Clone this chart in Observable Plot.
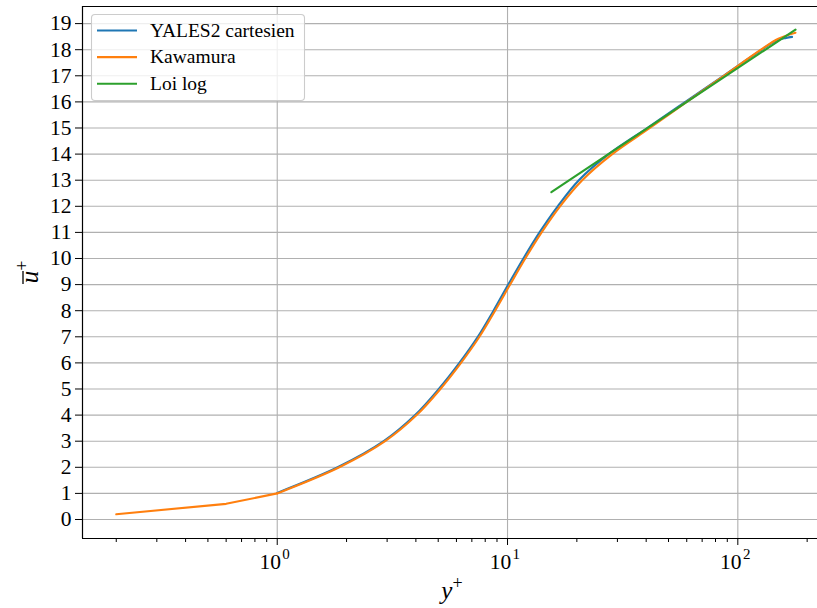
<!DOCTYPE html>
<html><head><meta charset="utf-8">
<script src="https://cdn.jsdelivr.net/npm/d3@7"></script>
<script src="https://cdn.jsdelivr.net/npm/@observablehq/plot@0.6"></script>
<style>
html,body{margin:0;padding:0;background:#fff;overflow:hidden}
#chart svg{display:block}
</style>
</head><body><div id="chart"></div>
<script>
// ---- data ----
const yplusYales = [1.0, 1.83, 2.90, 3.97, 5.03, 6.18, 7.43, 8.69, 10.07, 11.72, 13.77, 16.52, 20.4, 27.5, 40.4, 59.2, 86.7, 127, 148, 162, 172];
const uYales      = [1.02, 2.0, 3.0, 4.0, 5.0, 6.0, 7.0, 8.0, 9.0, 10.0, 11.0, 12.0, 13.0, 14.0, 15.0, 16.0, 17.0, 18.0, 18.36, 18.45, 18.49];
const yplusKawamura = [0.2, 0.6, 1.0, 1.86, 2.94, 4.03, 5.11, 6.28, 7.55, 8.83, 10.26, 11.94, 14.06, 16.9, 21.1, 28.5, 41.5, 60.0, 87.0, 126, 150, 178];
const uKawamura     = [0.2, 0.6, 1.0, 2.0, 3.0, 4.0, 5.0, 6.0, 7.0, 8.0, 9.0, 10.0, 11.0, 12.0, 13.0, 14.0, 15.0, 16.0, 17.0, 18.0, 18.42, 18.65];
const yplusLoiLog = [15.5, 178];
const uLoiLog     = [12.54, 18.77];

const seriesNames  = ["YALES2 cartesien", "Kawamura", "Loi log"];
const seriesColors = ["#1f77b4", "#ff7f0e", "#2ca02c"];

const xMajorTicks = [1, 10, 100];
const xMajorBase = ["10", "10", "10"];
const xMajorExponents = ["0", "1", "2"];
const xMinorTicks = [0.2,0.3,0.4,0.5,0.6,0.7,0.8,0.9, 2,3,4,5,6,7,8,9, 20,30,40,50,60,70,80,90, 200];
const yTicks = [0,1,2,3,4,5,6,7,8,9,10,11,12,13,14,15,16,17,18,19];

// ---- table for the library ----
const rows = [];
const add = (name, xs, ys) => xs.forEach((x, i) => rows.push({series: name, yplus: x, u: ys[i]}));
add(seriesNames[0], yplusYales, uYales);
add(seriesNames[1], yplusKawamura, uKawamura);
add(seriesNames[2], yplusLoiLog, uLoiLog);
const yalesRows = rows.filter(r => r.series === seriesNames[0]);
const kawaRows = rows.filter(r => r.series === seriesNames[1]);
const kawaNearWall = kawaRows.filter(r => r.yplus <= 1.0);
const kawaOuter = kawaRows.filter(r => r.yplus >= 1.0);
const loiRows = rows.filter(r => r.series === seriesNames[2]);

const FONT = "'Liberation Serif', 'DejaVu Serif', serif";
const xDomain = [0.1427, 221.8];
const yDomain = [-0.728, 19.655];
const gridStyle = {stroke: "#b0b0b0", strokeOpacity: 1, strokeWidth: 1.1};
const lineStyle = {x: "yplus", y: "u", stroke: "series", strokeWidth: 2.1};

const chart = Plot.plot({
  width: 817, height: 608,
  marginLeft: 82, marginRight: 0, marginTop: 6, marginBottom: 70,
  style: {fontFamily: FONT, fontSize: "21px", background: "white", color: "black"},
  x: {type: "log", domain: xDomain, axis: null},
  y: {domain: yDomain, axis: null},
  color: {domain: seriesNames, range: seriesColors},
  marks: [
    Plot.gridX(xMajorTicks, gridStyle),
    Plot.gridY(yTicks, gridStyle),
    Plot.line(yalesRows, {...lineStyle, curve: "catmull-rom"}),
    Plot.line(kawaNearWall, {...lineStyle, curve: "linear"}),
    Plot.line(kawaOuter, {...lineStyle, curve: "catmull-rom"}),
    Plot.line(loiRows, {...lineStyle, curve: "linear"}),
    Plot.ruleX([xDomain[0]], {stroke: "black", strokeWidth: 1.2}),
    Plot.ruleY([yDomain[0], yDomain[1]], {stroke: "black", strokeWidth: 1.2}),
    Plot.axisY(yTicks, {tickSize: 7, tickPadding: 4, fontSize: 21.5, label: null, tickFormat: d => String(d)}),
    Plot.axisX(xMajorTicks, {tickSize: 7, tickFormat: () => "", label: null}),
    Plot.axisX(xMinorTicks, {tickSize: 4, tickFormat: () => "", label: null}),
    Plot.text(xMajorTicks, {x: d => d, frameAnchor: "bottom", lineAnchor: "bottom", dy: 30, dx: -7,
      text: (d, i) => xMajorBase[i], fontSize: 21.5, textAnchor: "middle"}),
    Plot.text(xMajorTicks, {x: d => d, frameAnchor: "bottom", lineAnchor: "bottom", dy: 20, dx: 8.8,
      text: (d, i) => xMajorExponents[i], fontSize: 15, textAnchor: "middle"})
  ]
});
document.getElementById("chart").appendChild(chart);

// ---- axis titles ----
const svg = d3.select(chart);
const xl = svg.append("text").attr("x", 452).attr("y", 599).attr("text-anchor", "middle")
  .attr("font-family", FONT).attr("font-size", 25).attr("fill", "black");
xl.append("tspan").attr("font-style", "italic").text("y");
xl.append("tspan").attr("dy", -10).attr("font-size", 18).text("+");

const yg = svg.append("g").attr("transform", "translate(38,272) rotate(-90)");
const yl = yg.append("text").attr("text-anchor", "middle")
  .attr("font-family", FONT).attr("font-size", 25).attr("fill", "black");
yl.append("tspan").attr("font-style", "italic").text("u");
yl.append("tspan").attr("dy", -10).attr("font-size", 18).text("+");
yg.append("line").attr("x1", -12).attr("x2", 1).attr("y1", -15).attr("y2", -15)
  .attr("stroke", "black").attr("stroke-width", 1.3);

// ---- legend ----
const lg = svg.append("g").attr("font-family", FONT).attr("text-anchor", "start");
lg.append("rect").attr("x", 91.5).attr("y", 14.5).attr("width", 213).attr("height", 86)
  .attr("rx", 3.5).attr("fill", "white").attr("fill-opacity", 0.8)
  .attr("stroke", "#cccccc").attr("stroke-width", 1.1);
seriesNames.forEach((name, i) => {
  const cy = 30.5 + i * 26.6;
  lg.append("line").attr("x1", 97).attr("x2", 137).attr("y1", cy).attr("y2", cy)
    .attr("stroke", seriesColors[i]).attr("stroke-width", 2.1);
  lg.append("text").attr("x", 150).attr("y", cy + 6.3).attr("font-size", 19.5)
    .attr("text-anchor", "start").attr("fill", "black").text(name);
});
</script>
</body></html>
